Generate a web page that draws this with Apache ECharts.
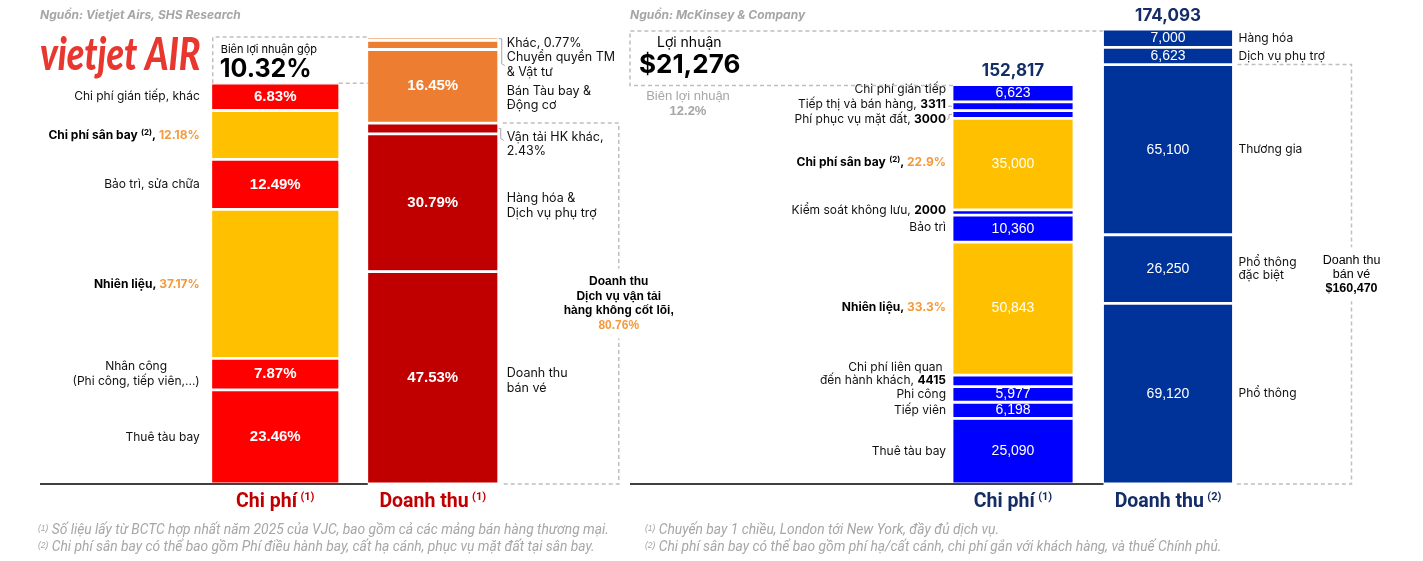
<!DOCTYPE html>
<html>
<head>
<meta charset="utf-8">
<script src="https://cdn.jsdelivr.net/npm/echarts@6/dist/echarts.min.js"></script>
<style>
  html, body { margin: 0; padding: 0; background: #fff; }
  #chart { width: 1423px; height: 561px; }
</style>
</head>
<body>
<div id="chart"></div>
<script>
// ===== Bảng trái: Vietjet (tỷ trọng %) – thứ tự từ trên xuống =====
const catL = ['Chi phí', 'Doanh thu'];
const catNoteL = ['(1)', '(1)'];
const marginL = 10.32;   // Biên lợi nhuận gộp
const coreRevL = 80.76;  // DT dịch vụ vận tải HK cốt lõi
const costNameL = ['Chi phí gián tiếp, khác', 'Chi phí sân bay', 'Bảo trì, sửa chữa', 'Nhiên liệu', 'Nhân công\n(Phi công, tiếp viên,...)', 'Thuê tàu bay'];
const costNoteL = ['', '(2)', '', '', '', ''];
const costValL = [6.83, 12.18, 12.49, 37.17, 7.87, 23.46];
const revNameL = ['Khác, 0.77%', 'Chuyển quyền TM\n& Vật tư', 'Bán Tàu bay &\nĐộng cơ', 'Vận tải HK khác,\n2.43%', 'Hàng hóa &\nDịch vụ phụ trợ', 'Doanh thu\nbán vé'];
const revValL = [0.77, 2.03, 16.45, 2.43, 30.79, 47.53];

// ===== Bảng phải: McKinsey (USD / chuyến) =====
const catNoteR = ['(1)', '(2)'];
const profitR = 21276;
const marginR = 12.2;
const ticketRevR = 160470;
const costTotalR = 152817;
const revTotalR = 174093;
const costNameR = ['Chi phí gián tiếp', 'Tiếp thị và bán hàng', 'Phí phục vụ mặt đất', 'Chi phí sân bay', 'Kiểm soát không lưu', 'Bảo trì', 'Nhiên liệu', 'Chi phí liên quan \nđến hành khách', 'Phi công', 'Tiếp viên', 'Thuê tàu bay'];
const costNoteR = ['', '', '', '(2)', '', '', '', '', '', '', ''];
const costValR = [6623, 3311, 3000, 35000, 2000, 10360, 50843, 4415, 5977, 6198, 25090];
const costShareR = [null, null, null, 22.9, null, null, 33.3, null, null, null, null];
const revNameR = ['Hàng hóa', 'Dịch vụ phụ trợ', 'Thương gia', 'Phổ thông\nđặc biệt', 'Phổ thông'];
const revValR = [7000, 6623, 65100, 26250, 69120];

// màu & bố cục
const RED = '#FF0000', YEL = '#FFC000', ORG = '#ED7D31', DRED = '#C00000';
const BLUE = '#0000FF', NAVY = '#003399', NAVY_TXT = '#152D66', HI = '#F59A3C', GRAY = '#A6A6A6';
const hiL = [1, 3], hiR = [3, 6];           // nhóm màu vàng
const revDyL = [5, 20, 12, 16, 3, 3];      // dịch nhãn
const costDyR = [-4, -2, 5, -2, -2, -1, -1, -7, 0, 0, 0];
const W = { costL: 129, revL: 132, costR: 122, revR: 131 };
const BW = 1.4; // viền trắng giữa các đoạn
const fmt = v => v.toLocaleString('en-US');

const richL = {
  n: { fontSize: 12, color: '#111', lineHeight: 15 },
  c: { fontSize: 12, color: '#111', lineHeight: 15, align: 'center' },
  m: { fontSize: 12.5, color: '#111', lineHeight: 14.5 },
  b: { fontSize: 12, color: '#000', fontWeight: 'bold' },
  o: { fontSize: 12, color: HI, fontWeight: 'bold' },
  s: { fontSize: 8, color: '#000', fontWeight: 'bold', verticalAlign: 'top' }
};
const richR = {
  n: { fontSize: 12, color: '#111', lineHeight: 12.5 },
  b: { fontSize: 12, color: '#000', fontWeight: 'bold', lineHeight: 12.5 },
  o: { fontSize: 12, color: HI, fontWeight: 'bold' },
  s: { fontSize: 8, color: '#000', fontWeight: 'bold', verticalAlign: 'top' }
};
const note = t => t ? ` {s|${t}}` : '';

const series = [];
// một đoạn cột = 1 series thật (nhãn trong) + 1 series trong suốt (nhãn tên)
function addStack(p) {
  for (let i = p.vals.length - 1; i >= 0; i--) {
    const v = p.vals[i];
    const d = p.cat === 0 ? [v, '-'] : ['-', v];
    const inTxt = p.inLabel(i);
    series.push({
      type: 'bar', xAxisIndex: p.xa, yAxisIndex: p.ya, stack: 's' + p.xa, barWidth: p.width, data: d,
      itemStyle: { color: p.color(i), borderColor: '#fff', borderWidth: BW },
      label: Object.assign({ show: !!inTxt, position: 'inside', formatter: inTxt || '' }, p.inStyle)
    });
    series.push({
      type: 'bar', xAxisIndex: p.xo, yAxisIndex: p.ya, stack: 's' + p.xo, barWidth: p.width, data: d,
      itemStyle: { color: 'rgba(0,0,0,0)' },
      label: { show: true, position: p.side, distance: p.dist, formatter: p.nameLabel(i), rich: p.rich, fontSize: 12, color: '#000' },
      labelLayout: p.dy && p.dy[i] ? { dy: p.dy[i] } : null
    });
  }
}

// trái - chi phí
addStack({
  vals: costValL, cat: 0, xa: 0, xo: 2, ya: 1, width: W.costL, side: 'left', dist: 11, rich: richL,
  color: i => hiL.includes(i) ? YEL : RED,
  inLabel: i => hiL.includes(i) ? '' : costValL[i].toFixed(2) + '%',
  inStyle: { color: '#fff', fontWeight: 'bold', fontSize: 15, fontFamily: 'Liberation Sans' },
  nameLabel: i => {
    if (hiL.includes(i)) {
      return `{b|${costNameL[i]}}` + note(costNoteL[i]) + `{b|, }{o|${costValL[i].toFixed(2)}%}`;
    }
    const ls = costNameL[i].split('\n');
    const t = ls.length > 1 ? 'c' : 'n';
    return ls.map(l => `{${t}|${l}}`).join('\n');
  }
});
// trái - doanh thu
addStack({
  vals: revValL, cat: 1, xa: 1, xo: 3, ya: 0, width: W.revL, side: 'right', dist: 8, rich: richL, dy: revDyL,
  color: i => i < 3 ? ORG : DRED,
  inLabel: i => revValL[i] >= 10 ? revValL[i].toFixed(2) + '%' : '',
  inStyle: { color: '#fff', fontWeight: 'bold', fontSize: 15, fontFamily: 'Liberation Sans' },
  nameLabel: i => revNameL[i].split('\n').map(l => `{m|${l}}`).join('\n')
});
// phải - chi phí
addStack({
  vals: costValR, cat: 0, xa: 4, xo: 6, ya: 2, width: W.costR, side: 'left', dist: 6, rich: richR, dy: costDyR,
  color: i => hiR.includes(i) ? YEL : BLUE,
  inLabel: i => costValR[i] >= 5000 ? fmt(costValR[i]) : '',
  inStyle: { color: '#fff', fontSize: 14, fontFamily: 'Liberation Sans' },
  nameLabel: i => {
    if (costShareR[i] != null) {
      return `{b|${costNameR[i]}}` + note(costNoteR[i]) + `{b|, }{o|${costShareR[i]}%}`;
    }
    const ls = costNameR[i].split('\n');
    const small = costValR[i] < 5000;
    return ls.map((l, k) => (small && k === ls.length - 1) ? `{n|${l}, }{b|${costValR[i]}}` : `{n|${l}}`).join('\n');
  }
});
// phải - doanh thu
addStack({
  vals: revValR, cat: 1, xa: 5, xo: 7, ya: 2, width: W.revR, side: 'right', dist: 5, rich: richR,
  color: () => NAVY,
  inLabel: i => fmt(revValR[i]),
  inStyle: { color: '#fff', fontSize: 14, fontFamily: 'Liberation Sans' },
  nameLabel: i => revNameR[i].split('\n').map(l => `{n|${l}}`).join('\n')
});
// tổng trên đỉnh cột (bảng phải)
[[6, 0, costTotalR, W.costR], [7, 1, revTotalR, W.revR]].forEach(([xa, cat, tot, w]) => {
  series.push({
    type: 'bar', xAxisIndex: xa, yAxisIndex: 2, stack: 's' + xa, barWidth: w,
    data: cat === 0 ? [0, '-'] : ['-', 0], itemStyle: { color: 'rgba(0,0,0,0)' },
    label: { show: true, position: 'top', distance: 5, formatter: fmt(tot), fontSize: 17, fontWeight: 'bold', color: NAVY_TXT }
  });
});

function xAxes(g, notes, color) {
  const base = { type: 'category', gridIndex: g, data: catL };
  return [
    Object.assign({}, base, {
      axisLine: { show: false }, axisTick: { show: false },
      axisLabel: {
        margin: 8, formatter: (v, i) => `{t|${v}} {s|${notes[i]}}`,
        rich: {
          t: { fontSize: 19.5, fontWeight: 'bold', color: color, fontFamily: 'Roboto' },
          s: { fontSize: 11, fontWeight: 'bold', color: color, fontFamily: 'Roboto', verticalAlign: 'top' }
        }
      }
    }),
    Object.assign({}, base, { show: false }),
    Object.assign({}, base, { show: false }),
    Object.assign({}, base, { show: false })
  ];
}

const option = {
  animation: false,
  textStyle: { fontFamily: 'Inter' },
  grid: [
    { left: 196.5, width: 315, top: 37, height: 447 },
    { left: 935.5, width: 310, top: 29, height: 455 }
  ],
  xAxis: xAxes(0, catNoteL, DRED).concat(xAxes(1, catNoteR, NAVY_TXT)),
  yAxis: [
    { gridIndex: 0, type: 'value', min: 0, max: 100, show: false },
    { gridIndex: 0, type: 'value', min: 0, max: 100 * 100 / (100 - marginL), show: false },
    { gridIndex: 1, type: 'value', min: 0, max: revTotalR, show: false }
  ],
  series: series
};

const chart = echarts.init(document.getElementById('chart'));
chart.setOption(option);

// ===== chú thích, khung nét đứt =====
const X = (a, c) => chart.convertToPixel({ xAxisIndex: a }, c);
const Y = (a, v) => chart.convertToPixel({ yAxisIndex: a }, v);
// tâm đoạn thứ i (đếm từ trên) của cột chồng có tổng top
const segMid = (vals, top, i) => top - vals.slice(0, i).reduce((s, v) => s + v, 0) - vals[i] / 2;
const dash = { stroke: '#BFBFBF', lineWidth: 1.5, lineDash: [4, 3], fill: null };
const solid = { stroke: '#404040', lineWidth: 2 };
const guide = { stroke: '#A6A6A6', lineWidth: 1, fill: null };
const G = [];
const txt = (x, y, text, st) => G.push({
  type: 'text', x: x, y: y, z: 20,
  style: Object.assign({ text: text, fill: '#000', fontFamily: 'Inter', fontSize: 12, align: 'left', verticalAlign: 'middle' }, st)
});
const poly = (pts, st) => G.push({ type: 'polyline', z: 15, shape: { points: pts }, style: st });

{
  // trái
  const cL = X(0, 0) - W.costL / 2 + 1, cR = X(0, 0) + W.costL / 2 - 1;
  const rL = X(1, 1) - W.revL / 2 + 1, rR = X(1, 1) + W.revL / 2 - 1;
  const base = Y(0, 0), revTop = Y(0, 100), costTop = Y(1, 100), core = Y(0, coreRevL);
  const bx = rR + 121;
  poly([[cL + 1, costTop], [cL + 1, revTop], [rL, revTop]], dash);
  poly([[cR, costTop], [rL, costTop]], dash);
  poly([[rR + 5, core], [bx, core], [bx, base], [rR + 3, base]], dash);
  poly([[40, base], [rL, base]], solid);
  // đường dẫn nhãn đoạn nhỏ
  const yK = Y(0, segMid(revValL, 100, 0)), yV = Y(0, segMid(revValL, 100, 3));
  poly([[rR + 1, yK], [rR + 4, yK], [rR + 4, yK + 25], [rR + 7, yK + 27]], guide);
  poly([[rR + 1, yV], [rR + 3, yV], [rR + 3, yV + 10], [rR + 6, yV + 12]], guide);
  txt(cL + 9, revTop + 13, 'Biên lợi nhuận gộp', { fontSize: 11 });
  txt(cL + 8, revTop + 32, marginL.toFixed(2) + '%', { fontSize: 25, fontWeight: 'bold' });
  txt(bx, (core + base) / 2, '{b|Doanh thu}\n{b|Dịch vụ vận tải}\n{b|hàng không cốt lõi,}\n{o|' + coreRevL.toFixed(2) + '%}', {
    align: 'center', backgroundColor: '#fff', padding: [6, 2],
    rich: { b: { fontSize: 12, fontWeight: 'bold', lineHeight: 14.5, fill: '#000' }, o: { fontSize: 12, fontWeight: 'bold', lineHeight: 14.5, fill: HI } }
  });
  txt(40, 15, 'Nguồn: Vietjet Airs, SHS Research', { fontSize: 12, fontWeight: 'bold', fontStyle: 'italic', fill: GRAY });
  G.push({
    type: 'text', x: 40, y: 55, z: 20, scaleX: 0.78,
    style: { text: 'vietjet AIR', fill: '#E8372F', fontFamily: 'Lato', fontSize: 46, fontWeight: 900, fontStyle: 'italic', verticalAlign: 'middle' }
  });
  const fn = { fontFamily: 'Roboto', fontSize: 13.8, fontStyle: 'italic', fill: GRAY, rich: { s: { fontSize: 8.5, fontStyle: 'italic', fill: GRAY, verticalAlign: 'top' } } };
  txt(38, 531, '{s|(1)} Số liệu lấy từ BCTC hợp nhất năm 2025 của VJC, bao gồm cả các mảng bán hàng thương mại.', fn);
  txt(38, 548, '{s|(2)} Chi phí sân bay có thể bao gồm Phí điều hành bay, cất hạ cánh, phục vụ mặt đất tại sân bay.', fn);

  // phải
  const cL2 = X(4, 0) - W.costR / 2 + 1;
  const rL2 = X(5, 1) - W.revR / 2 + 1, rR2 = X(5, 1) + W.revR / 2 - 1;
  const base2 = Y(2, 0), revTop2 = Y(2, revTotalR), costTop2 = Y(2, costTotalR), tick2 = Y(2, ticketRevR);
  const bx2 = rR2 + 119;
  poly([[cL2, costTop2 + 1], [630, costTop2 + 1], [630, revTop2 + 2], [rL2, revTop2 + 2]], dash);
  poly([[rR2 + 5, tick2], [bx2, tick2], [bx2, base2], [rR2 + 3, base2]], dash);
  poly([[630, base2], [rL2, base2]], solid);
  const yT = Y(2, segMid(costValR, costTotalR, 1)), yP = Y(2, segMid(costValR, costTotalR, 2));
  poly([[cL2 - 1, yT], [cL2 - 5, yT]], guide);
  poly([[cL2 - 1, yP], [cL2 - 4, yP], [cL2 - 4, yP + 4], [cL2 - 6, yP + 5]], guide);
  txt(657, 43, 'Lợi nhuận', { fontSize: 14 });
  txt(639, 65, '$' + fmt(profitR), { fontSize: 26, fontWeight: 'bold' });
  txt(688, 104, '{a|Biên lợi nhuận}\n{b|' + marginR + '%}', {
    align: 'center',
    rich: { a: { fontSize: 13, fill: GRAY, lineHeight: 15 }, b: { fontSize: 13, fill: GRAY, fontWeight: 'bold', lineHeight: 15 } }
  });
  txt(bx2, (tick2 + base2) / 2, '{a|Doanh thu}\n{a|bán vé}\n{b|$' + fmt(ticketRevR) + '}', {
    align: 'center', backgroundColor: '#fff', padding: [6, 2],
    rich: { a: { fontSize: 12.5, lineHeight: 14, fill: '#000' }, b: { fontSize: 12.5, fontWeight: 'bold', lineHeight: 14, fill: '#000' } }
  });
  txt(630, 15, 'Nguồn: McKinsey & Company', { fontSize: 12, fontWeight: 'bold', fontStyle: 'italic', fill: GRAY });
  txt(645, 531, '{s|(1)} Chuyến bay 1 chiều, London tới New York, đầy đủ dịch vụ.', fn);
  txt(645, 548, '{s|(2)} Chi phí sân bay có thể bao gồm phí hạ/cất cánh, chi phí gắn với khách hàng, và thuế Chính phủ.', fn);
}
chart.setOption({ graphic: G });
</script>
</body>
</html>
